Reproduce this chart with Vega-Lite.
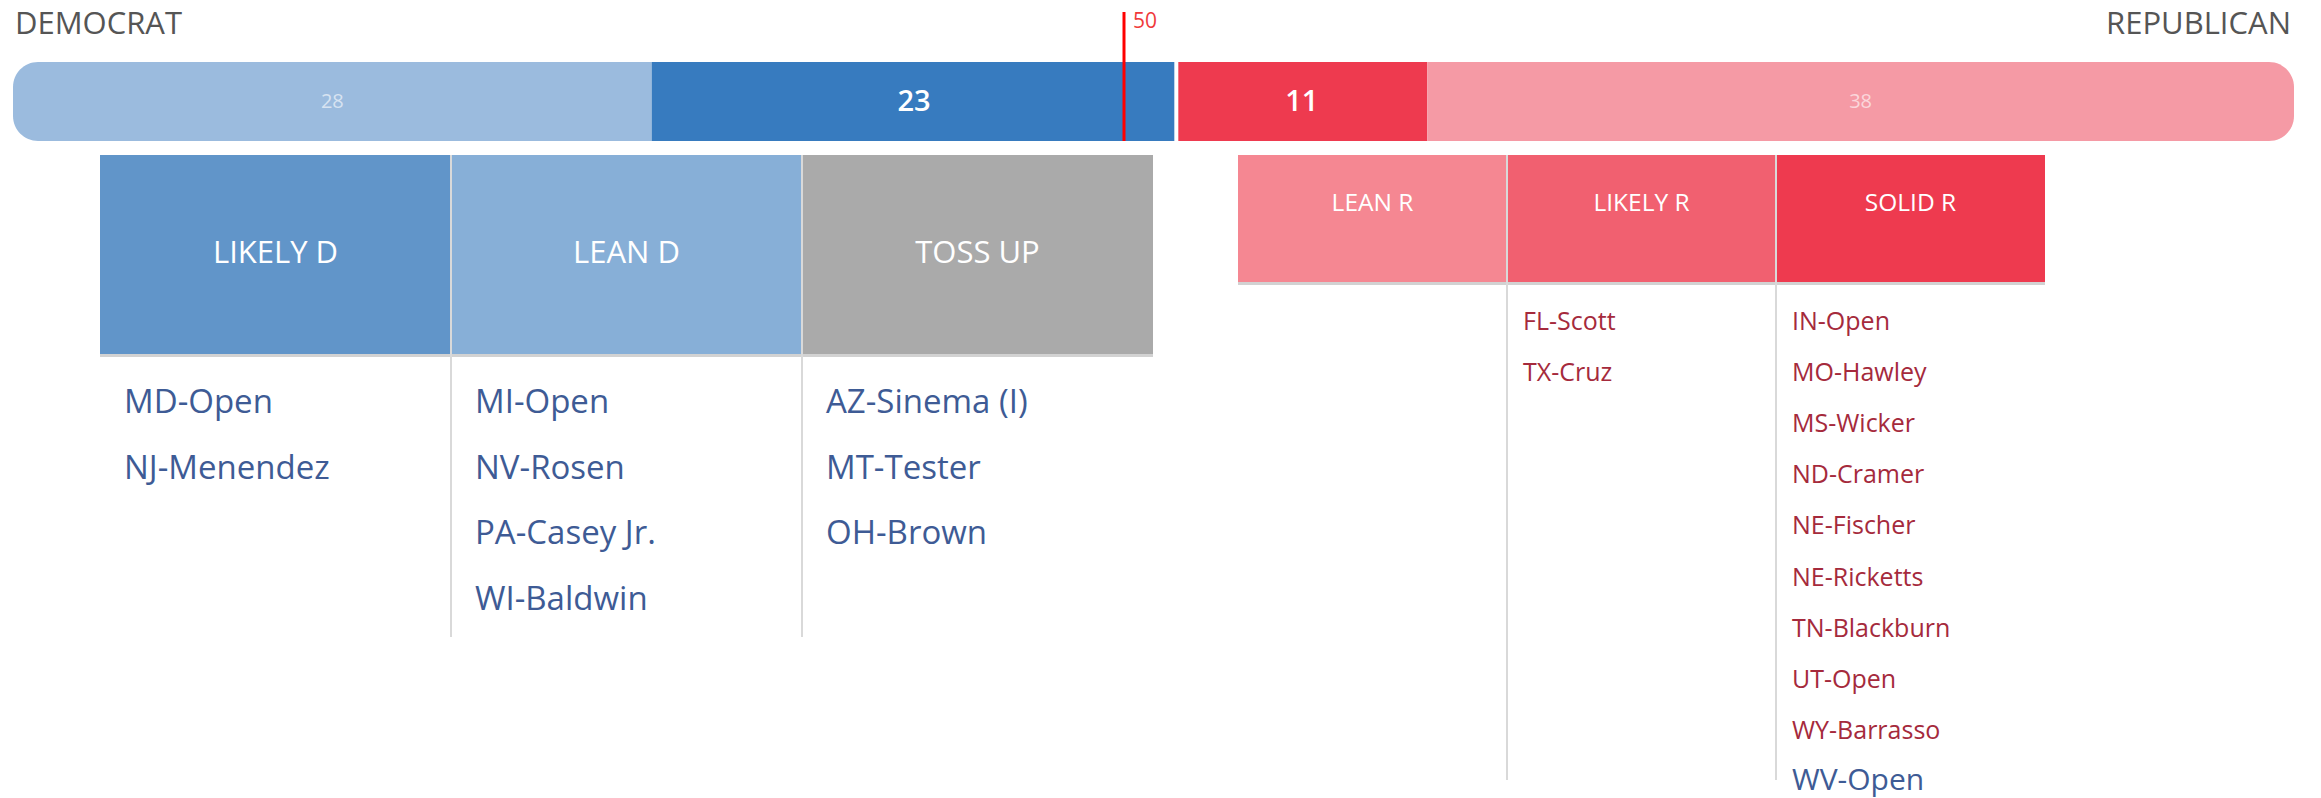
{
  "$schema": "https://vega.github.io/schema/vega-lite/v6.json",
  "width": 2321,
  "height": 798,
  "autosize": {"type": "none"},
  "padding": 0,
  "background": "white",
  "config": {"view": {"stroke": null}, "text": {"font": "Open Sans"}},
  "datasets": {
    "seats": [
      {"chamber": "Senate", "group": "D not up", "party": "DEMOCRAT", "seats": 28, "order": 1},
      {"chamber": "Senate", "group": "D up", "party": "DEMOCRAT", "seats": 23, "order": 2},
      {"chamber": "Senate", "group": "R up", "party": "REPUBLICAN", "seats": 11, "order": 3},
      {"chamber": "Senate", "group": "R not up", "party": "REPUBLICAN", "seats": 38, "order": 4}
    ],
    "majority": [{"seats": 50}],
    "categories": [
      {"category": "LIKELY D", "side": "D"},
      {"category": "LEAN D", "side": "D"},
      {"category": "TOSS UP", "side": "D"},
      {"category": "LEAN R", "side": "R"},
      {"category": "LIKELY R", "side": "R"},
      {"category": "SOLID R", "side": "R"}
    ],
    "races": [
      {"race": "MD-Open", "category": "LIKELY D", "held": "D"},
      {"race": "NJ-Menendez", "category": "LIKELY D", "held": "D"},
      {"race": "MI-Open", "category": "LEAN D", "held": "D"},
      {"race": "NV-Rosen", "category": "LEAN D", "held": "D"},
      {"race": "PA-Casey Jr.", "category": "LEAN D", "held": "D"},
      {"race": "WI-Baldwin", "category": "LEAN D", "held": "D"},
      {"race": "AZ-Sinema (I)", "category": "TOSS UP", "held": "I"},
      {"race": "MT-Tester", "category": "TOSS UP", "held": "D"},
      {"race": "OH-Brown", "category": "TOSS UP", "held": "D"},
      {"race": "FL-Scott", "category": "LIKELY R", "held": "R"},
      {"race": "TX-Cruz", "category": "LIKELY R", "held": "R"},
      {"race": "IN-Open", "category": "SOLID R", "held": "R"},
      {"race": "MO-Hawley", "category": "SOLID R", "held": "R"},
      {"race": "MS-Wicker", "category": "SOLID R", "held": "R"},
      {"race": "ND-Cramer", "category": "SOLID R", "held": "R"},
      {"race": "NE-Fischer", "category": "SOLID R", "held": "R"},
      {"race": "NE-Ricketts", "category": "SOLID R", "held": "R"},
      {"race": "TN-Blackburn", "category": "SOLID R", "held": "R"},
      {"race": "UT-Open", "category": "SOLID R", "held": "R"},
      {"race": "WY-Barrasso", "category": "SOLID R", "held": "R"},
      {"race": "WV-Open", "category": "SOLID R", "held": "D"}
    ]
  },
  "layer": [
    {
      "data": {"name": "seats"},
      "transform": [
        {"stack": "seats", "groupby": [], "sort": [{"field": "order", "order": "ascending"}], "as": ["s0", "s1"]},
        {"filter": "datum.order == 1"}
      ],
      "mark": {"type": "bar", "cornerRadiusTopLeft": 25, "cornerRadiusBottomLeft": 25},
      "encoding": {
        "x": {"field": "s0", "type": "quantitative", "scale": {"domain": [0, 100], "range": [13, 2294], "zero": false, "nice": false}, "axis": null},
        "x2": {"field": "s1"},
        "y": {"datum": 0, "type": "quantitative", "scale": {"domain": [0, 1], "range": [141, 62], "zero": false, "nice": false}, "axis": null},
        "y2": {"datum": 1},
        "color": {"field": "group", "type": "nominal", "scale": {"domain": ["D not up", "D up", "R up", "R not up"], "range": ["#9BBBDE", "#377BBF", "#EE3A4F", "#F59AA5"]}, "legend": null}
      }
    },
    {
      "data": {"name": "seats"},
      "transform": [
        {"stack": "seats", "groupby": [], "sort": [{"field": "order", "order": "ascending"}], "as": ["s0", "s1"]},
        {"filter": "datum.order == 2 || datum.order == 3"}
      ],
      "mark": {"type": "bar"},
      "encoding": {
        "x": {"field": "s0", "type": "quantitative", "scale": {"domain": [0, 100], "range": [13, 2294], "zero": false, "nice": false}, "axis": null},
        "x2": {"field": "s1"},
        "y": {"datum": 0, "type": "quantitative", "scale": {"domain": [0, 1], "range": [141, 62], "zero": false, "nice": false}, "axis": null},
        "y2": {"datum": 1},
        "color": {"field": "group", "type": "nominal", "scale": {"domain": ["D not up", "D up", "R up", "R not up"], "range": ["#9BBBDE", "#377BBF", "#EE3A4F", "#F59AA5"]}, "legend": null}
      }
    },
    {
      "data": {"name": "seats"},
      "transform": [
        {"stack": "seats", "groupby": [], "sort": [{"field": "order", "order": "ascending"}], "as": ["s0", "s1"]},
        {"filter": "datum.order == 4"}
      ],
      "mark": {"type": "bar", "cornerRadiusTopRight": 25, "cornerRadiusBottomRight": 25},
      "encoding": {
        "x": {"field": "s0", "type": "quantitative", "scale": {"domain": [0, 100], "range": [13, 2294], "zero": false, "nice": false}, "axis": null},
        "x2": {"field": "s1"},
        "y": {"datum": 0, "type": "quantitative", "scale": {"domain": [0, 1], "range": [141, 62], "zero": false, "nice": false}, "axis": null},
        "y2": {"datum": 1},
        "color": {"field": "group", "type": "nominal", "scale": {"domain": ["D not up", "D up", "R up", "R not up"], "range": ["#9BBBDE", "#377BBF", "#EE3A4F", "#F59AA5"]}, "legend": null}
      }
    },
    {
      "data": {"name": "seats"},
      "transform": [
        {"stack": "seats", "groupby": [], "sort": [{"field": "order", "order": "ascending"}], "as": ["s0", "s1"]},
        {"filter": "datum.order == 2"}
      ],
      "mark": {"type": "rule", "color": "white", "strokeWidth": 4},
      "encoding": {
        "x": {"field": "s1", "type": "quantitative", "scale": {"domain": [0, 100], "range": [13, 2294], "zero": false, "nice": false}, "axis": null},
        "y": {"datum": 0, "type": "quantitative", "scale": {"domain": [0, 1], "range": [141, 62], "zero": false, "nice": false}, "axis": null},
        "y2": {"datum": 1}
      }
    },
    {
      "data": {"name": "seats"},
      "transform": [
        {"stack": "seats", "groupby": [], "sort": [{"field": "order", "order": "ascending"}], "as": ["s0", "s1"]},
        {"calculate": "(datum.s0 + datum.s1) / 2", "as": "mid"},
        {"filter": "datum.order == 1 || datum.order == 4"}
      ],
      "mark": {"type": "text", "font": "Open Sans", "fontSize": 20, "color": "white", "opacity": 0.6, "align": "center", "baseline": "middle"},
      "encoding": {
        "x": {"field": "mid", "type": "quantitative", "scale": {"domain": [0, 100], "range": [13, 2294], "zero": false, "nice": false}, "axis": null},
        "y": {"datum": 0.5, "type": "quantitative", "scale": {"domain": [0, 1], "range": [141, 62], "zero": false, "nice": false}, "axis": null},
        "text": {"field": "seats", "type": "quantitative"}
      }
    },
    {
      "data": {"name": "seats"},
      "transform": [
        {"stack": "seats", "groupby": [], "sort": [{"field": "order", "order": "ascending"}], "as": ["s0", "s1"]},
        {"calculate": "(datum.s0 + datum.s1) / 2", "as": "mid"},
        {"filter": "datum.order == 2 || datum.order == 3"}
      ],
      "mark": {"type": "text", "font": "Open Sans", "fontSize": 29, "fontWeight": 600, "color": "white", "align": "center", "baseline": "middle"},
      "encoding": {
        "x": {"field": "mid", "type": "quantitative", "scale": {"domain": [0, 100], "range": [13, 2294], "zero": false, "nice": false}, "axis": null},
        "y": {"datum": 0.5, "type": "quantitative", "scale": {"domain": [0, 1], "range": [141, 62], "zero": false, "nice": false}, "axis": null},
        "text": {"field": "seats", "type": "quantitative"}
      }
    },
    {
      "data": {"name": "seats"},
      "transform": [
        {"stack": "seats", "groupby": [], "sort": [{"field": "order", "order": "ascending"}], "as": ["s0", "s1"]},
        {"filter": "datum.order == 1"}
      ],
      "mark": {"type": "text", "font": "Open Sans", "fontSize": 31, "color": "#555555", "align": "left", "baseline": "alphabetic", "dx": 2},
      "encoding": {
        "x": {"field": "s0", "type": "quantitative", "scale": {"domain": [0, 100], "range": [13, 2294], "zero": false, "nice": false}, "axis": null},
        "y": {"datum": 1.354, "type": "quantitative", "scale": {"domain": [0, 1], "range": [141, 62], "zero": false, "nice": false}, "axis": null},
        "text": {"field": "party", "type": "nominal"}
      }
    },
    {
      "data": {"name": "seats"},
      "transform": [
        {"stack": "seats", "groupby": [], "sort": [{"field": "order", "order": "ascending"}], "as": ["s0", "s1"]},
        {"filter": "datum.order == 4"}
      ],
      "mark": {"type": "text", "font": "Open Sans", "fontSize": 31, "color": "#555555", "align": "right", "baseline": "alphabetic", "dx": -3},
      "encoding": {
        "x": {"field": "s1", "type": "quantitative", "scale": {"domain": [0, 100], "range": [13, 2294], "zero": false, "nice": false}, "axis": null},
        "y": {"datum": 1.354, "type": "quantitative", "scale": {"domain": [0, 1], "range": [141, 62], "zero": false, "nice": false}, "axis": null},
        "text": {"field": "party", "type": "nominal"}
      }
    },
    {
      "data": {"name": "majority"},
      "mark": {"type": "rule", "color": "#FF0000", "strokeWidth": 3, "xOffset": -29.5},
      "encoding": {
        "x": {"field": "seats", "type": "quantitative", "scale": {"domain": [0, 100], "range": [13, 2294], "zero": false, "nice": false}, "axis": null},
        "y": {"datum": 0, "type": "quantitative", "scale": {"domain": [0, 1], "range": [141, 62], "zero": false, "nice": false}, "axis": null},
        "y2": {"datum": 1.633}
      }
    },
    {
      "data": {"name": "majority"},
      "mark": {"type": "text", "font": "Open Sans", "fontSize": 21, "color": "#F03A3A", "align": "left", "baseline": "alphabetic", "dx": -20.5},
      "encoding": {
        "x": {"field": "seats", "type": "quantitative", "scale": {"domain": [0, 100], "range": [13, 2294], "zero": false, "nice": false}, "axis": null},
        "y": {"datum": 1.43, "type": "quantitative", "scale": {"domain": [0, 1], "range": [141, 62], "zero": false, "nice": false}, "axis": null},
        "text": {"field": "seats", "type": "quantitative"}
      }
    },
    {
      "data": {"name": "categories"},
      "transform": [{"filter": "datum.side == 'D'"}],
      "mark": {"type": "rect", "color": "#D2D2D2", "yOffset": 3, "y2Offset": 3},
      "encoding": {
        "x": {"field": "category", "type": "nominal", "scale": {"type": "band", "domain": ["LIKELY D", "LEAN D", "TOSS UP"], "range": [100, 1153], "paddingInner": 0, "paddingOuter": 0}, "axis": null},
        "y": {"field": "side", "type": "nominal", "scale": {"type": "band", "domain": ["D"], "range": [155, 354], "paddingInner": 0, "paddingOuter": 0}, "axis": null}
      }
    },
    {
      "data": {"name": "categories"},
      "transform": [{"filter": "datum.side == 'D'"}],
      "mark": {"type": "rect"},
      "encoding": {
        "x": {"field": "category", "type": "nominal", "scale": {"type": "band", "domain": ["LIKELY D", "LEAN D", "TOSS UP"], "range": [100, 1153], "paddingInner": 0, "paddingOuter": 0}, "axis": null},
        "y": {"field": "side", "type": "nominal", "scale": {"type": "band", "domain": ["D"], "range": [155, 354], "paddingInner": 0, "paddingOuter": 0}, "axis": null},
        "color": {"field": "category", "type": "nominal", "scale": {"domain": ["LIKELY D", "LEAN D", "TOSS UP", "LEAN R", "LIKELY R", "SOLID R"], "range": ["#6195C9", "#87AFD7", "#AAAAAA", "#F58792", "#F16070", "#EE3A4F"]}, "legend": null}
      }
    },
    {
      "data": {"name": "categories"},
      "transform": [{"filter": "datum.side == 'D'"}],
      "mark": {"type": "text", "font": "Open Sans", "fontSize": 31, "color": "white", "align": "center", "baseline": "alphabetic", "dy": 8.5},
      "encoding": {
        "x": {"field": "category", "type": "nominal", "scale": {"type": "band", "domain": ["LIKELY D", "LEAN D", "TOSS UP"], "range": [100, 1153], "paddingInner": 0, "paddingOuter": 0}, "axis": null},
        "y": {"field": "side", "type": "nominal", "scale": {"type": "band", "domain": ["D"], "range": [155, 354], "paddingInner": 0, "paddingOuter": 0}, "axis": null},
        "text": {"field": "category", "type": "nominal"}
      }
    },
    {
      "data": {"name": "categories"},
      "transform": [{"filter": "datum.side == 'R'"}],
      "mark": {"type": "rect", "color": "#D2D2D2", "yOffset": 3, "y2Offset": 3},
      "encoding": {
        "x": {"field": "category", "type": "nominal", "scale": {"type": "band", "domain": ["LEAN R", "LIKELY R", "SOLID R"], "range": [1238, 2045], "paddingInner": 0, "paddingOuter": 0}, "axis": null},
        "y": {"field": "side", "type": "nominal", "scale": {"type": "band", "domain": ["R"], "range": [155, 282], "paddingInner": 0, "paddingOuter": 0}, "axis": null}
      }
    },
    {
      "data": {"name": "categories"},
      "transform": [{"filter": "datum.side == 'R'"}],
      "mark": {"type": "rect"},
      "encoding": {
        "x": {"field": "category", "type": "nominal", "scale": {"type": "band", "domain": ["LEAN R", "LIKELY R", "SOLID R"], "range": [1238, 2045], "paddingInner": 0, "paddingOuter": 0}, "axis": null},
        "y": {"field": "side", "type": "nominal", "scale": {"type": "band", "domain": ["R"], "range": [155, 282], "paddingInner": 0, "paddingOuter": 0}, "axis": null},
        "color": {"field": "category", "type": "nominal", "scale": {"domain": ["LIKELY D", "LEAN D", "TOSS UP", "LEAN R", "LIKELY R", "SOLID R"], "range": ["#6195C9", "#87AFD7", "#AAAAAA", "#F58792", "#F16070", "#EE3A4F"]}, "legend": null}
      }
    },
    {
      "data": {"name": "categories"},
      "transform": [{"filter": "datum.side == 'R'"}],
      "mark": {"type": "text", "font": "Open Sans", "fontSize": 24.5, "color": "white", "align": "center", "baseline": "alphabetic", "dy": -7.5},
      "encoding": {
        "x": {"field": "category", "type": "nominal", "scale": {"type": "band", "domain": ["LEAN R", "LIKELY R", "SOLID R"], "range": [1238, 2045], "paddingInner": 0, "paddingOuter": 0}, "axis": null},
        "y": {"field": "side", "type": "nominal", "scale": {"type": "band", "domain": ["R"], "range": [155, 282], "paddingInner": 0, "paddingOuter": 0}, "axis": null},
        "text": {"field": "category", "type": "nominal"}
      }
    },
    {
      "data": {"name": "categories"},
      "transform": [{"filter": "datum.side == 'D' && datum.category != 'LIKELY D'"}],
      "mark": {"type": "rule", "color": "#D9D9D9", "strokeWidth": 2},
      "encoding": {
        "x": {"field": "category", "type": "nominal", "bandPosition": 0, "scale": {"type": "band", "domain": ["LIKELY D", "LEAN D", "TOSS UP"], "range": [100, 1153], "paddingInner": 0, "paddingOuter": 0}, "axis": null},
        "y": {"datum": -2.927, "type": "quantitative", "scale": {"domain": [1, 2], "range": [413, 478.7], "zero": false, "nice": false}, "axis": null},
        "y2": {"datum": 4.41}
      }
    },
    {
      "data": {"name": "categories"},
      "transform": [{"filter": "datum.side == 'R' && datum.category != 'LEAN R'"}],
      "mark": {"type": "rule", "color": "#D9D9D9", "strokeWidth": 2},
      "encoding": {
        "x": {"field": "category", "type": "nominal", "bandPosition": 0, "scale": {"type": "band", "domain": ["LEAN R", "LIKELY R", "SOLID R"], "range": [1238, 2045], "paddingInner": 0, "paddingOuter": 0}, "axis": null},
        "y": {"datum": -2.425, "type": "quantitative", "scale": {"domain": [1, 2], "range": [330, 381.1], "zero": false, "nice": false}, "axis": null},
        "y2": {"datum": 9.806}
      }
    },
    {
      "data": {"name": "races"},
      "transform": [
        {"filter": {"field": "category", "oneOf": ["LIKELY D", "LEAN D", "TOSS UP"]}},
        {"window": [{"op": "row_number", "as": "idx"}], "groupby": ["category"]}
      ],
      "mark": {"type": "text", "font": "Open Sans", "fontSize": 33, "color": "#3E5B95", "align": "left", "baseline": "alphabetic", "dx": 24},
      "encoding": {
        "x": {"field": "category", "type": "nominal", "bandPosition": 0, "scale": {"type": "band", "domain": ["LIKELY D", "LEAN D", "TOSS UP"], "range": [100, 1153], "paddingInner": 0, "paddingOuter": 0}, "axis": null},
        "y": {"field": "idx", "type": "quantitative", "scale": {"domain": [1, 2], "range": [413, 478.7], "zero": false, "nice": false}, "axis": null},
        "text": {"field": "race", "type": "nominal"}
      }
    },
    {
      "data": {"name": "races"},
      "transform": [
        {"filter": {"field": "category", "oneOf": ["LEAN R", "LIKELY R", "SOLID R"]}},
        {"window": [{"op": "row_number", "as": "idx"}], "groupby": ["category"]}
      ],
      "mark": {"type": "text", "font": "Open Sans", "align": "left", "baseline": "alphabetic", "dx": 16},
      "encoding": {
        "x": {"field": "category", "type": "nominal", "bandPosition": 0, "scale": {"type": "band", "domain": ["LEAN R", "LIKELY R", "SOLID R"], "range": [1238, 2045], "paddingInner": 0, "paddingOuter": 0}, "axis": null},
        "y": {"field": "idx", "type": "quantitative", "scale": {"domain": [1, 2], "range": [330, 381.1], "zero": false, "nice": false}, "axis": null},
        "text": {"field": "race", "type": "nominal"},
        "size": {"condition": {"test": "datum.held != 'R'", "value": 30}, "value": 25},
        "color": {"condition": {"test": "datum.held != 'R'", "value": "#3E5B95"}, "value": "#A52A3C"}
      }
    }
  ],
  "resolve": {"scale": {"x": "independent", "y": "independent", "color": "independent", "size": "independent"}}
}
